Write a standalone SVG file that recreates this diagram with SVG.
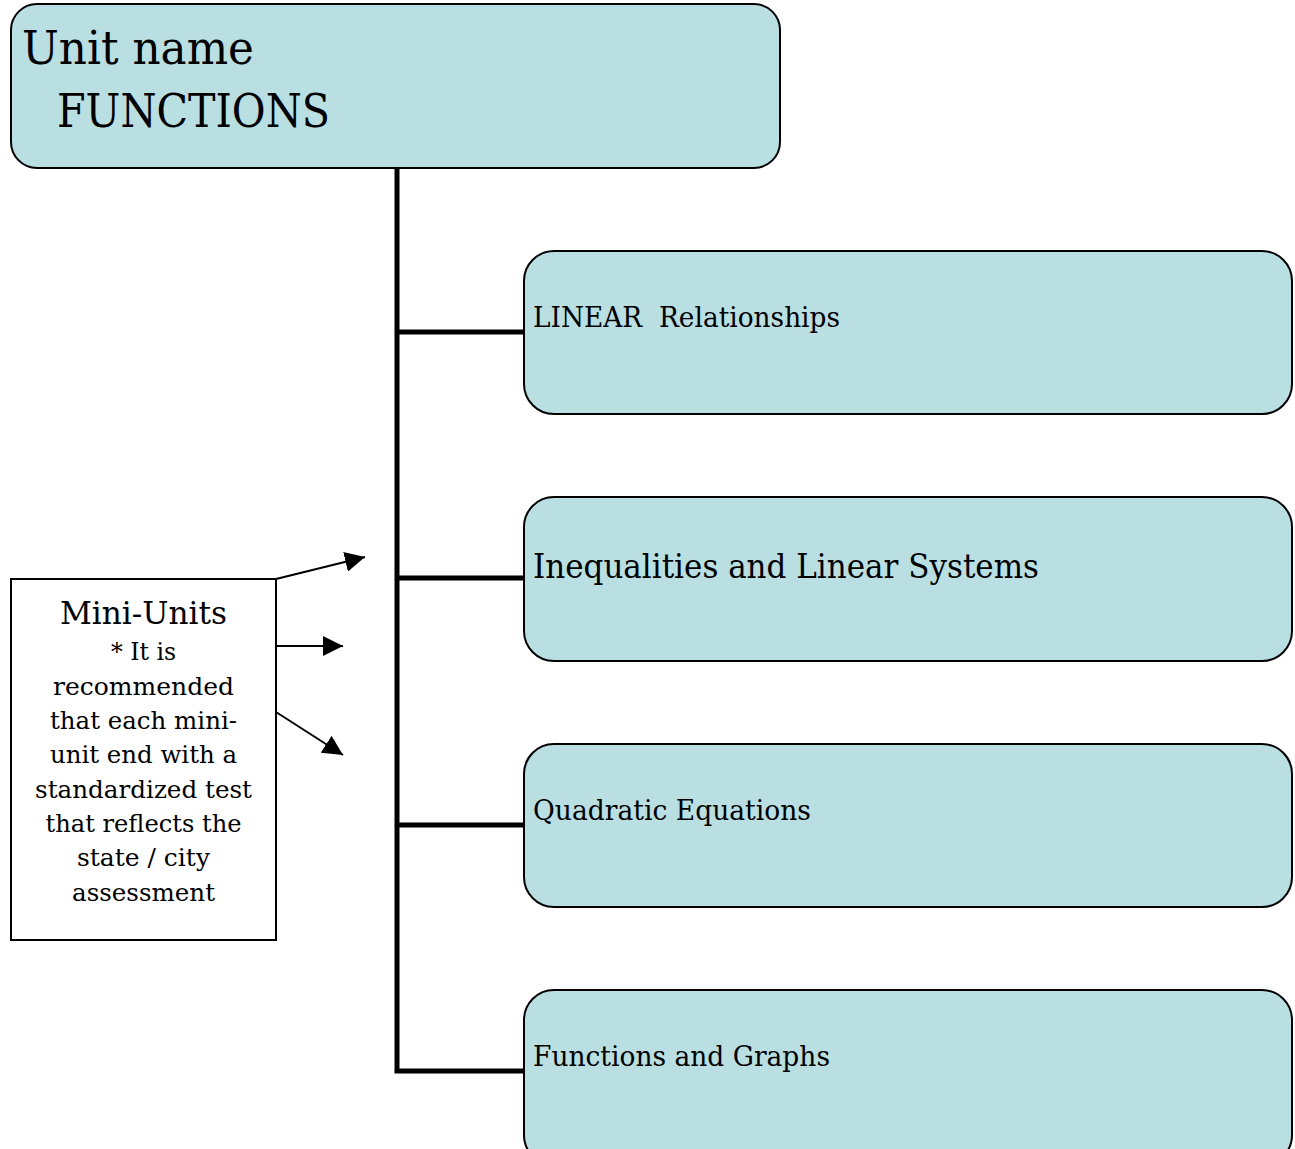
<svg xmlns="http://www.w3.org/2000/svg" width="1295" height="1149" viewBox="0 0 1295 1149">
<style>
.box{fill:#b9dfe3;stroke:#000;stroke-width:2}
.t{font-family:"DejaVu Serif","Liberation Serif",serif;fill:#000}
.br{stroke:#000;stroke-width:5;fill:none;stroke-linejoin:miter}
.ar{stroke:#000;stroke-width:2;fill:none}
</style>
<defs>
<marker id="ah2" viewBox="0 0 20 20" refX="20" refY="10" markerWidth="20" markerHeight="20" markerUnits="userSpaceOnUse" orient="auto">
<path d="M0,0 L20,10 L0,20 z" fill="#000"/>
</marker>
</defs>
<g id="connectors">
<path class="br" d="M397,168 V1071 H524"/>
<path class="br" d="M397,332 H524"/>
<path class="br" d="M397,578 H524"/>
<path class="br" d="M397,825 H524"/>
<path class="ar" d="M276,579 L365,557" marker-end="url(#ah2)"/>
<path class="ar" d="M276,646 L343,646" marker-end="url(#ah2)"/>
<path class="ar" d="M276,712 L343,755" marker-end="url(#ah2)"/>
</g>
<g id="unit">
<rect class="box" x="11" y="4" width="769" height="164" rx="26"/>
<text class="t" x="22" y="64" font-size="46" textLength="232" lengthAdjust="spacingAndGlyphs">Unit name</text>
<text class="t" x="57" y="127" font-size="46" textLength="273" lengthAdjust="spacingAndGlyphs">FUNCTIONS</text>
</g>
<g id="linear">
<rect class="box" x="524" y="251" width="768" height="163" rx="30"/>
<text class="t" x="533" y="327" font-size="28" xml:space="preserve" textLength="307" lengthAdjust="spacingAndGlyphs">LINEAR  Relationships</text>
</g>
<g id="inequalities">
<rect class="box" x="524" y="497" width="768" height="164" rx="30"/>
<text class="t" x="533" y="578" font-size="34" textLength="506" lengthAdjust="spacingAndGlyphs">Inequalities and Linear Systems</text>
</g>
<g id="quadratic">
<rect class="box" x="524" y="744" width="768" height="163" rx="30"/>
<text class="t" x="533" y="820" font-size="28" textLength="278" lengthAdjust="spacingAndGlyphs">Quadratic Equations</text>
</g>
<g id="graphs">
<rect class="box" x="524" y="990" width="768" height="175" rx="30"/>
<text class="t" x="533" y="1066" font-size="28" textLength="297" lengthAdjust="spacingAndGlyphs">Functions and Graphs</text>
</g>
<g id="miniunits">
<rect x="11" y="579" width="265" height="361" fill="#fff" stroke="#000" stroke-width="2"/>
<g class="t" text-anchor="middle" font-size="24">
<text x="143.5" y="624" font-size="32" textLength="167" lengthAdjust="spacingAndGlyphs">Mini-Units</text>
<text x="143.5" y="660" textLength="65" lengthAdjust="spacingAndGlyphs">* It is</text>
<text x="143.5" y="695" textLength="181" lengthAdjust="spacingAndGlyphs">recommended</text>
<text x="143.5" y="729" textLength="187" lengthAdjust="spacingAndGlyphs">that each mini-</text>
<text x="143.5" y="763" textLength="187" lengthAdjust="spacingAndGlyphs">unit end with a</text>
<text x="143.5" y="798" textLength="217" lengthAdjust="spacingAndGlyphs">standardized test</text>
<text x="143.5" y="832" textLength="196" lengthAdjust="spacingAndGlyphs">that reflects the</text>
<text x="143.5" y="866" textLength="133" lengthAdjust="spacingAndGlyphs">state / city</text>
<text x="143.5" y="901" textLength="143" lengthAdjust="spacingAndGlyphs">assessment</text>
</g>
</g>
</svg>
